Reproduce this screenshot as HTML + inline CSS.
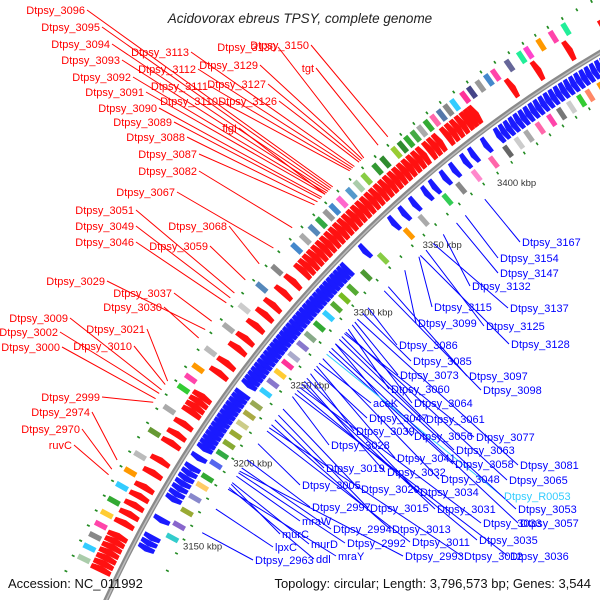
<!DOCTYPE html>
<html><head><meta charset="utf-8">
<style>
html,body{margin:0;padding:0;background:#fff;width:600px;height:600px;overflow:hidden;}
svg{display:block;overflow:hidden;}
text{font-family:"Liberation Sans","DejaVu Sans",sans-serif;}
</style></head>
<body>
<svg id="map" width="600" height="600" viewBox="0 0 600 600" xmlns="http://www.w3.org/2000/svg">
<rect width="600" height="600" fill="#fff"/>
<g id="rings"></g>
<g id="backbone"></g>
<g id="lines"></g>
<g id="labels"></g>
<text x="300" y="23" text-anchor="middle" font-size="13.5" font-style="italic" fill="#222">Acidovorax ebreus TPSY, complete genome</text>
<text x="8" y="588" font-size="13" fill="#111">Accession: NC_011992</text>
<text x="591" y="588" text-anchor="end" font-size="13" fill="#111">Topology: circular; Length: 3,796,573 bp; Genes: 3,544</text>
</svg>
<script>
// ---- data ----
const tickKbp = [3150, 3200, 3250, 3300, 3350, 3400];
const tickLabels = ["3150 kbp","3200 kbp","3250 kbp","3300 kbp","3350 kbp","3400 kbp"];
const fwdGenes = [3478,3458,3440,3425,3403,3400.5,3398,3395,3392,3389,3386,3381,3378,3375,3371,3368,3365,3362,3359,3356,3353,3350,3347,3344,3341,3338,3335,3332,3329,3326,3323,3320,3317,3314,3311,3308,3305,3302,3299,3296,3293,3290,3283,3276,3268,3262,3255,3247,3241,3232,3226,3212,3209,3206,3203,3196,3190,3185,3175,3168,3160,3155,3150,3145,3140,3133,3130,3127,3124,3121,3118,3115];
const revGenes = [3478,3475,3472,3469,3466,3463,3460,3457,3454,3451,3448,3445,3442,3439,3436,3433,3430,3427,3424,3421,3418,3415,3412,3409,3406,3398,3390,3385,3378,3372,3365,3360,3352,3345,3338,3318,3305,3302.5,3300,3297.5,3295,3292.5,3290,3287.5,3285,3282.5,3280,3277.5,3275,3272.5,3270,3267.5,3265,3262.5,3260,3257.5,3255,3252.5,3250,3247.5,3245,3242.5,3240,3237.5,3235,3232.5,3230,3224,3221.5,3219,3216.5,3214,3211.5,3209,3206.5,3204,3201.5,3199,3196.5,3194,3191.5,3186,3180,3177,3174,3171,3168,3165,3162,3150,3140,3137,3134];
const outerBoxKbp = [3462,3455,3448,3441,3437,3430,3422,3418,3413,3408,3404,3398,3394,3390,3386,3382,3378,3374,3370,3366,3362,3355,3350,3343,3338,3333,3327,3322,3318,3313,3308,3302,3296,3282,3271,3258,3246,3232,3222,3216,3210,3198,3185,3172,3163,3155,3147,3140,3134,3128,3122,3116];
const outerBoxColors = ["#22ee99","#ff44aa","#ff9900","#ff44cc","#22ee99","#666699","#ff44aa","#4488cc","#999999","#444488","#ff3399","#33ccff","#888888","#5577aa","#ff66aa","#33aa33","#aaaaaa","#44aa44","#33aa33","#2e8b2e","#99cc33","#2e8b2e","#339933","#88cc44","#aaccaa","#5599cc","#ff66cc","#4488cc","#999999","#33aa44","#5588bb","#aaaaaa","#4488cc","#888888","#5588bb","#cccccc","#aaaaaa","#bbbbbb","#ff9900","#ff44aa","#33cc33","#aaaaaa","#669933","#bbbbbb","#ff9900","#33ccff","#33aa33","#ffcc33","#ff44aa","#888888","#33ccff","#aaccaa"];
const innerBoxKbp = [3470,3462,3455,3450,3444,3438,3432,3425,3418,3412,3405,3396,3385,3375,3366,3350,3340,3322,3310,3300,3294,3288,3282,3275,3268,3262,3255,3250,3244,3238,3232,3224,3218,3212,3206,3200,3194,3188,3180,3175,3168,3160,3152,3145];
const innerBoxColors = ["#ff9900","#ff9900","#ff8866","#33cc33","#cccccc","#777777","#ff44aa","#ff66aa","#aaaaaa","#cccccc","#666666","#ff66aa","#ff88cc","#888888","#33cc55","#aaaaaa","#ff9900","#88cc44","#4d9933","#55aa33","#77bb22","#55aa33","#33ccff","#33aa33","#88aa88","#8877cc","#aaaacc","#ff3399","#ffcc33","#8877cc","#33ccff","#99aa55","#aaaa44","#cccc88","#99aa33","#88aa33","#33aa44","#5566ee","#33aa33","#ffcc66","#8888cc","#99aa33","#8866cc","#33cccc"];
const outerDotKbp = [3480,3472,3464,3456,3449,3442,3434,3426,3418,3410,3402,3394,3386,3378,3370,3362,3354,3346,3338,3330,3322,3314,3306,3298,3290,3281,3272,3264,3256,3248,3240,3230,3220,3212,3204,3196,3188,3180,3172,3164,3156,3148,3140,3132,3124,3116,3108];
const innerDotKbp = [3476,3468,3460,3452,3444,3436,3428,3420,3412,3404,3395,3386,3378,3370,3362,3354,3346,3338,3330,3322,3313,3304,3295,3286,3278,3270,3262,3254,3246,3238,3230,3221,3212,3204,3196,3188,3180,3172,3164,3156,3148,3140,3130];
const fwdLabelNames = ["Dtpsy_3096","Dtpsy_3095","Dtpsy_3094","Dtpsy_3093","Dtpsy_3092","Dtpsy_3091","Dtpsy_3090","Dtpsy_3089","Dtpsy_3088","Dtpsy_3087","Dtpsy_3082","Dtpsy_3067","Dtpsy_3051","Dtpsy_3049","Dtpsy_3046","Dtpsy_3068","Dtpsy_3059","Dtpsy_3029","Dtpsy_3037","Dtpsy_3030","Dtpsy_3009","Dtpsy_3002","Dtpsy_3021","Dtpsy_3000","Dtpsy_3010","Dtpsy_2999","Dtpsy_2974","Dtpsy_2970","ruvC","Dtpsy_3113","Dtpsy_3130","Dtpsy_3150","Dtpsy_3112","Dtpsy_3129","Dtpsy_3111","Dtpsy_3127","Dtpsy_3110","Dtpsy_3126","tgt","flgI"];
const fwdLabelKbp = [3330,3329,3328,3327,3326,3325,3323,3322,3320,3318,3303,3290,3262,3259,3256,3280,3270,3240,3245,3235,3205,3203,3210,3200,3208,3198,3166,3161,3158,3344,3350,3365,3343,3349,3342,3348,3341,3347,3359,3325];
const revLabelNames = ["Dtpsy_3167","Dtpsy_3154","Dtpsy_3147","Dtpsy_3132","Dtpsy_3137","Dtpsy_3115","Dtpsy_3099","Dtpsy_3125","Dtpsy_3128","Dtpsy_3086","Dtpsy_3085","Dtpsy_3073","Dtpsy_3097","Dtpsy_3098","Dtpsy_3060","Dtpsy_3064","aceK","Dtpsy_3047","Dtpsy_3061","Dtpsy_3039","Dtpsy_3056","Dtpsy_3077","Dtpsy_3028","Dtpsy_3063","Dtpsy_3041","Dtpsy_3058","Dtpsy_3081","Dtpsy_3019","Dtpsy_3032","Dtpsy_3048","Dtpsy_3065","Dtpsy_3005","Dtpsy_3020","Dtpsy_3034","Dtpsy_R0053","Dtpsy_3031","Dtpsy_3053","Dtpsy_2997","Dtpsy_3015","Dtpsy_3033","Dtpsy_3057","mraW","Dtpsy_2994","Dtpsy_3013","Dtpsy_3035","murC","Dtpsy_2992","Dtpsy_3011","murD","lpxC","ddl","mraY","Dtpsy_2993","Dtpsy_3012","Dtpsy_3036","Dtpsy_2963"];
const revLabelKbp = [3382,3369,3363,3354,3347,3337,3327,3342,3338,3300,3296,3290,3315,3312,3285,3288,3262,3258,3280,3255,3275,3282,3240,3278,3260,3270,3292,3225,3250,3265,3283,3210,3232,3252,3268,3248,3275,3200,3228,3246,3272,3190,3195,3222,3244,3185,3192,3218,3186,3170,3183,3182,3193,3220,3242,3156];
// label anchor layout (pixel positions: layout, not data)
const fwdLabelPos = [[85,14],[100,31],[110,48],[120,64],[131,81],[144,96],[157,112],[172,126],[185,141],[197,158],[197,175],[175,196],[134,214],[134,230],[134,246],[227,230],[208,250],[105,285],[172,297],[162,311],[68,322],[58,336],[145,333],[60,351],[132,350],[100,401],[90,416],[80,433],[72,449],[189,56],[276,51],[309,49],[196,73],[258,69],[208,90],[266,88],[218,105],[277,105],[314,72],[237,132]];
const revLabelPos = [[522,246],[500,262],[500,277],[472,290],[510,312],[434,311],[418,327],[486,330],[511,348],[399,349],[413,365],[400,379],[469,380],[483,394],[391,393],[414,407],[373,407],[369,422],[426,423],[356,435],[414,440],[476,441],[331,449],[456,454],[397,462],[455,468],[520,469],[326,472],[387,476],[441,483],[509,484],[302,489],[361,493],[420,496],[504,500],[437,513],[518,513],[312,511],[370,512],[483,527],[520,527],[302,525],[333,533],[392,533],[479,544],[282,538],[347,547],[412,546],[311,548],[275,551],[316,563],[338,560],[405,560],[464,560],[510,560],[255,564]];

// ---- geometry ----
const CX = 1225, CY = 1113, R = 1231;
const NS = "http://www.w3.org/2000/svg";
function ang(k){ return (-127.3 - (3400 - k) * 0.0948) * Math.PI / 180; }
function pt(k, r){ const a = ang(k); return [CX + r * Math.cos(a), CY + r * Math.sin(a)]; }
function mk(tag, attrs, parent){ const e = document.createElementNS(NS, tag); for (const k in attrs) e.setAttribute(k, attrs[k]); parent.appendChild(e); return e; }
const rings = document.getElementById('rings');
const bb = document.getElementById('backbone');
const lines = document.getElementById('lines');
const labels = document.getElementById('labels');

function arrow(k, len, r1, r2, dir, color, name){
  const tip = Math.min(len * 0.35, 0.8);
  const rm = (r1 + r2) / 2;
  let p;
  if (dir > 0) p = [pt(k, r1), pt(k + len - tip, r1), pt(k + len, rm), pt(k + len - tip, r2), pt(k, r2)];
  else p = [pt(k + len, r1), pt(k + tip, r1), pt(k, rm), pt(k + tip, r2), pt(k + len, r2)];
  const e = mk('polygon', {points: p.map(q => q[0].toFixed(1) + ',' + q[1].toFixed(1)).join(' '), fill: color, stroke: color, 'stroke-width': 0.6}, rings);
  
  
}
function box(k, len, r1, r2, color, name){
  const p = [pt(k, r1), pt(k + len, r1), pt(k + len, r2), pt(k, r2)];
  const e = mk('polygon', {points: p.map(q => q[0].toFixed(1) + ',' + q[1].toFixed(1)).join(' '), fill: color}, rings);
  
  
}

fwdGenes.forEach(k => arrow(k, 2.9, R + 7, R + 28, 1, '#ff1111', 'forward-gene-arrow'));
revGenes.forEach(k => arrow(k, 2.7, R - 5, R - 22, -1, '#1a1aff', 'reverse-gene-arrow'));
outerBoxKbp.forEach((k, i) => box(k, 2.6, R + 31, R + 44, outerBoxColors[i], 'outer-feature-box'));
innerBoxKbp.forEach((k, i) => box(k, 2.6, R - 25, R - 38, innerBoxColors[i], 'inner-feature-box'));
outerDotKbp.forEach(k => box(k, 0.8, R + 47, R + 50, '#228b22', 'outer-marker-dot'));
innerDotKbp.forEach(k => box(k, 0.8, R - 41, R - 44, '#228b22', 'inner-marker-dot'));

// backbone
const c1 = mk('circle', {cx: CX, cy: CY, r: R, fill: 'none', stroke: '#8a8a8a', 'stroke-width': 5}, bb);


const c2 = mk('circle', {cx: CX, cy: CY, r: R - 0.5, fill: 'none', stroke: '#bdbdbd', 'stroke-width': 1.5}, bb);



// ticks
tickKbp.forEach((k, i) => {
  const p = pt(k, R - 62);
  const t = mk('text', {x: p[0].toFixed(1), y: (p[1] + 3).toFixed(1), 'text-anchor': 'middle', 'font-size': 9.5, fill: '#333'}, rings);
  t.textContent = tickLabels[i];
  
  
});

// labels
fwdLabelNames.forEach((n, i) => {
  const [x, y] = fwdLabelPos[i];
  const e = pt(fwdLabelKbp[i], R + 55);
  const l = mk('line', {x1: x + 2, y1: y - 4, x2: e[0].toFixed(1), y2: e[1].toFixed(1), stroke: '#ff0000', 'stroke-width': 1}, lines);
  
  
  const t = mk('text', {x: x, y: y, 'text-anchor': 'end', 'font-size': 11, fill: '#ff0000'}, labels);
  t.textContent = n;
  
  
});
revLabelNames.forEach((n, i) => {
  const [x, y] = revLabelPos[i];
  const s = pt(revLabelKbp[i], R - 55);
  const col = n === 'Dtpsy_R0053' ? '#33ccff' : '#0000ff';
  const l = mk('line', {x1: s[0].toFixed(1), y1: s[1].toFixed(1), x2: x - 2, y2: y - 4, stroke: col, 'stroke-width': 1}, lines);
  
  
  const t = mk('text', {x: x, y: y, 'font-size': 11, fill: col}, labels);
  t.textContent = n;
  
  
});
</script>
</body></html>
